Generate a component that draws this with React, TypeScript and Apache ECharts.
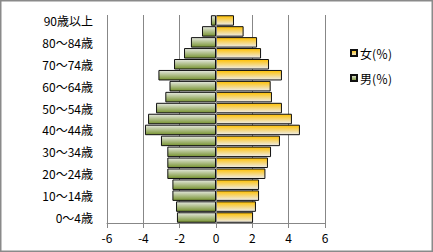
import React, { useEffect, useRef } from "react";
import * as echarts from "echarts";

const categories = [
  "0～4歳", "5～9歳", "10～14歳", "15～19歳", "20～24歳", "25～29歳", "30～34歳",
  "35～39歳", "40～44歳", "45～49歳", "50～54歳", "55～59歳", "60～64歳", "65～69歳",
  "70～74歳", "75～79歳", "80～84歳", "85～89歳", "90歳以上",
];
const male = [
  -2.15, -2.2, -2.4, -2.4, -2.68, -2.68, -2.68, -3.03, -3.91, -3.74,
  -3.3, -2.79, -2.56, -3.17, -2.31, -1.76, -1.38, -0.77, -0.28,
];
const female = [
  2.04, 2.2, 2.37, 2.37, 2.72, 2.86, 3.03, 3.52, 4.62, 4.18,
  3.63, 3.08, 3.01, 3.63, 2.92, 2.48, 2.26, 1.52, 0.99,
];
const xTicks = { min: -6, max: 6, interval: 2 };
const femaleName = "女(％)";
const maleName = "男(％)";

const FONT = "'Noto Sans CJK JP', sans-serif";

export default function App() {
  const ref = useRef<HTMLDivElement>(null);
  useEffect(() => {
    if (!ref.current) return;
    const chart = echarts.init(ref.current, undefined, { renderer: "svg" });
    const femaleFill = new echarts.graphic.LinearGradient(0, 0, 0, 1, [
      { offset: 0, color: "#ffc000" },
      { offset: 1, color: "#ececec" },
    ]);
    const maleFill = new echarts.graphic.LinearGradient(0, 0, 0, 1, [
      { offset: 0, color: "#e6e9e0" },
      { offset: 1, color: "#76922f" },
    ]);
    chart.setOption({
      animation: false,
      backgroundColor: "#ffffff",
      textStyle: { fontFamily: FONT },
      graphic: [
        {
          type: "rect",
          shape: { x: 0.75, y: 0.75, width: 431.5, height: 250.5 },
          style: { fill: "none", stroke: "#8a8a8a", lineWidth: 1.5 },
          silent: true,
          z: 100,
        },
      ],
      grid: { left: 107, right: 108, top: 15, bottom: 29 },
      legend: {
        orient: "vertical",
        left: 350,
        top: 47,
        padding: 0,
        itemWidth: 6,
        itemHeight: 6,
        itemGap: 13,
        icon: "rect",
        data: [femaleName, maleName],
        textStyle: { fontFamily: FONT, fontSize: 12, color: "#000", padding: [0, 0, 0, -2] },
      },
      xAxis: {
        type: "value",
        min: xTicks.min,
        max: xTicks.max,
        interval: xTicks.interval,
        axisLine: { show: true, onZero: false, lineStyle: { color: "#878787", width: 1 } },
        axisTick: { show: true, length: 5, lineStyle: { color: "#878787" } },
        splitLine: { show: true, lineStyle: { color: "#878787", width: 1 } },
        axisLabel: { fontFamily: FONT, fontSize: 12, color: "#000", margin: 8 },
      },
      yAxis: {
        type: "category",
        data: categories,
        axisLine: { show: false },
        axisTick: { show: false },
        axisLabel: { interval: 1, fontFamily: FONT, fontSize: 12, color: "#000", margin: 14 },
      },
      series: [
        {
          name: femaleName,
          type: "bar",
          data: female,
          barGap: "-100%",
          barCategoryGap: "4%",
          itemStyle: { color: femaleFill, borderColor: "#111", borderWidth: 1 },
          z: 2,
        },
        {
          name: maleName,
          type: "bar",
          data: male,
          barGap: "-100%",
          barCategoryGap: "4%",
          itemStyle: { color: maleFill, borderColor: "#111", borderWidth: 1 },
          z: 2,
          markLine: {
            silent: true,
            symbol: "none",
            label: { show: false },
            lineStyle: { color: "#878787", width: 1, type: "solid" },
            data: [{ xAxis: 0 }],
            z: 5,
          },
        },
      ],
    });
    return () => chart.dispose();
  }, []);
  return (
    <div
      ref={ref}
      style={{ position: "fixed", left: 0, top: 0, width: 433, height: 252 }}
    />
  );
}
